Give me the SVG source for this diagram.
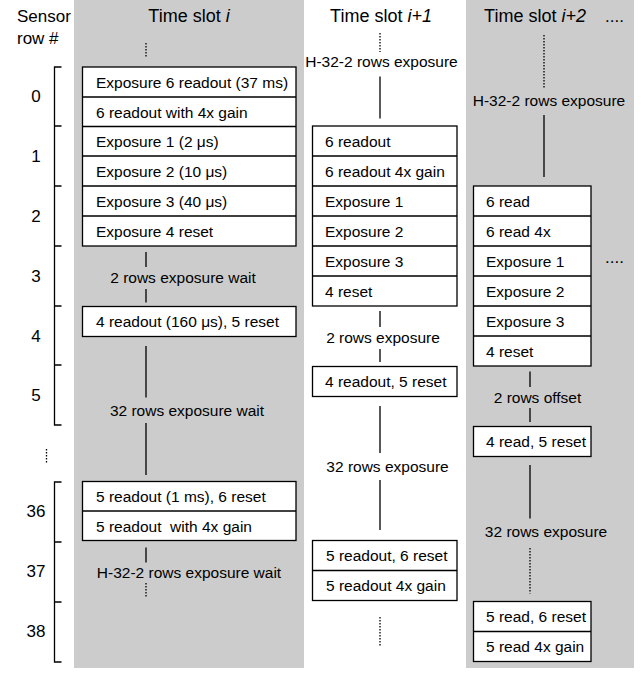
<svg xmlns="http://www.w3.org/2000/svg" width="641" height="673" viewBox="0 0 641 673">
<style>
text{font-family:"Liberation Sans",Arial,sans-serif;fill:#000}
.h{font-size:17px}
.ts{font-size:18px}
.t{font-size:15.5px}
.c{text-anchor:middle}
.box{fill:#fff;stroke:#000;stroke-width:1.3}
.ln{stroke:#000;stroke-width:1.3;fill:none}
.dot{stroke:#000;stroke-width:1.3;fill:none;stroke-dasharray:1.4 1.6}
.bg{fill:#cccccc}
</style>
<rect class="bg" x="74" y="0" width="230" height="668"/>
<rect class="bg" x="466" y="0" width="168" height="668"/>
<g id="headers">
<text class="h" x="17" y="22">Sensor</text>
<text class="h" x="17" y="43.5">row #</text>
<text class="ts c" x="189" y="22">Time slot <tspan font-style="italic">i</tspan></text>
<text class="ts c" x="381" y="22">Time slot <tspan font-style="italic">i+1</tspan></text>
<text class="ts c" x="535" y="22">Time slot <tspan font-style="italic">i+2</tspan></text>
<text class="h" x="605" y="22">....</text>
</g>
<g id="row-axis">
<path class="ln" d="M61.5 67H54.5V425H61.5M54.5 126H61.5M54.5 186H61.5M54.5 246H61.5M54.5 306H61.5M54.5 365H61.5"/>
<path class="ln" d="M61.5 482H54.5V662H61.5M54.5 542H61.5M54.5 602H61.5"/>
<path class="dot" d="M46.5 449V463"/>
<text class="h c" x="36" y="102">0</text>
<text class="h c" x="36" y="162">1</text>
<text class="h c" x="36" y="222">2</text>
<text class="h c" x="36" y="282">3</text>
<text class="h c" x="36" y="341.5">4</text>
<text class="h c" x="36" y="401">5</text>
<text class="h c" x="36" y="517">36</text>
<text class="h c" x="36" y="577">37</text>
<text class="h c" x="36" y="637">38</text>
</g>
<g id="slot-i-block1">
<rect class="box" x="82.5" y="67" width="213.5" height="179"/>
<path class="ln" d="M82.5 97H296M82.5 126.5H296M82.5 156H296M82.5 186H296M82.5 216H296"/>
<text class="t" x="96" y="87.5">Exposure 6 readout (37 ms)</text>
<text class="t" x="96" y="117.5">6 readout with 4x gain</text>
<text class="t" x="96" y="147">Exposure 1 (2 μs)</text>
<text class="t" x="96" y="176.5">Exposure 2 (10 μs)</text>
<text class="t" x="96" y="206.5">Exposure 3 (40 μs)</text>
<text class="t" x="96" y="236.5">Exposure 4 reset</text>
</g>
<g id="slot-i-block2">
<rect class="box" x="82.5" y="306.5" width="213.5" height="30"/>
<text class="t" x="96" y="327">4 readout (160 μs), 5 reset</text>
</g>
<g id="slot-i-block3">
<rect class="box" x="82.5" y="481.5" width="213.5" height="59"/>
<path class="ln" d="M82.5 511H296"/>
<text class="t" x="96" y="502">5 readout (1 ms), 6 reset</text>
<text class="t" x="96" y="531.5" xml:space="preserve">5 readout  with 4x gain</text>
</g>
<g id="slot-i1-block1">
<rect class="box" x="312.5" y="126" width="144.5" height="180"/>
<path class="ln" d="M312.5 156H457M312.5 186H457M312.5 216H457M312.5 246H457M312.5 276H457"/>
<text class="t" x="325" y="146.5">6 readout</text>
<text class="t" x="325" y="176.5">6 readout 4x gain</text>
<text class="t" x="325" y="206.5">Exposure 1</text>
<text class="t" x="325" y="236.5">Exposure 2</text>
<text class="t" x="325" y="266.5">Exposure 3</text>
<text class="t" x="325" y="296.5">4 reset</text>
</g>
<g id="slot-i1-block2">
<rect class="box" x="312.5" y="366.5" width="144.5" height="30"/>
<text class="t" x="325" y="387">4 readout, 5 reset</text>
</g>
<g id="slot-i1-block3">
<rect class="box" x="312.5" y="540.5" width="144.5" height="60"/>
<path class="ln" d="M312.5 570.5H457"/>
<text class="t" x="326" y="561">5 readout, 6 reset</text>
<text class="t" x="326" y="591">5 readout 4x gain</text>
</g>
<g id="slot-i2-block1">
<rect class="box" x="473.5" y="186" width="117.5" height="180"/>
<path class="ln" d="M473.5 216H591M473.5 246H591M473.5 276H591M473.5 306H591M473.5 336H591"/>
<text class="t" x="486" y="206.5">6 read</text>
<text class="t" x="486" y="236.5">6 read 4x</text>
<text class="t" x="486" y="266.5">Exposure 1</text>
<text class="t" x="486" y="296.5">Exposure 2</text>
<text class="t" x="486" y="326.5">Exposure 3</text>
<text class="t" x="486" y="356.5">4 reset</text>
</g>
<g id="slot-i2-block2">
<rect class="box" x="473.5" y="426.5" width="117.5" height="30"/>
<text class="t" x="486" y="447">4 read, 5 reset</text>
</g>
<g id="slot-i2-block3">
<rect class="box" x="473.5" y="601.5" width="117.5" height="60"/>
<path class="ln" d="M473.5 631.5H591"/>
<text class="t" x="486" y="622">5 read, 6 reset</text>
<text class="t" x="486" y="652">5 read 4x gain</text>
</g>
<g id="continue-marker">
<text class="h" x="605" y="263">....</text>
</g>
<g id="connectors">
<path class="dot" d="M146 43V57"/>
<path class="ln" d="M146 252V267M146 289V302.5"/>
<text class="t c" x="183" y="282.5">2 rows exposure wait</text>
<path class="ln" d="M146 346V397.5M146 423V475"/>
<text class="t c" x="187" y="416">32 rows exposure wait</text>
<path class="ln" d="M146 547.5V562.5"/>
<path class="dot" d="M146 583V597"/>
<text class="t c" x="189" y="577.5">H-32-2 rows exposure wait</text>

<path class="dot" d="M380 33V52"/>
<text class="t c" x="381.5" y="66.5">H-32-2 rows exposure</text>
<path class="ln" d="M380 76.5V118.5"/>
<path class="ln" d="M380 311V327M380 349V362"/>
<text class="t c" x="383" y="342.5">2 rows exposure</text>
<path class="ln" d="M380 406V453M380 480V530"/>
<text class="t c" x="387.5" y="471.5">32 rows exposure</text>
<path class="dot" d="M380 617V647"/>

<path class="dot" d="M544 35V88.5"/>
<text class="t c" x="549" y="106">H-32-2 rows exposure</text>
<path class="ln" d="M544 115V177"/>
<path class="ln" d="M530 371.5V387M530 408V422"/>
<text class="t c" x="537.5" y="402.5">2 rows offset</text>
<path class="ln" d="M530 465V518.5"/>
<text class="t c" x="546" y="536.5">32 rows exposure</text>
<path class="dot" d="M530 548V593.5"/>
</g>
</svg>
